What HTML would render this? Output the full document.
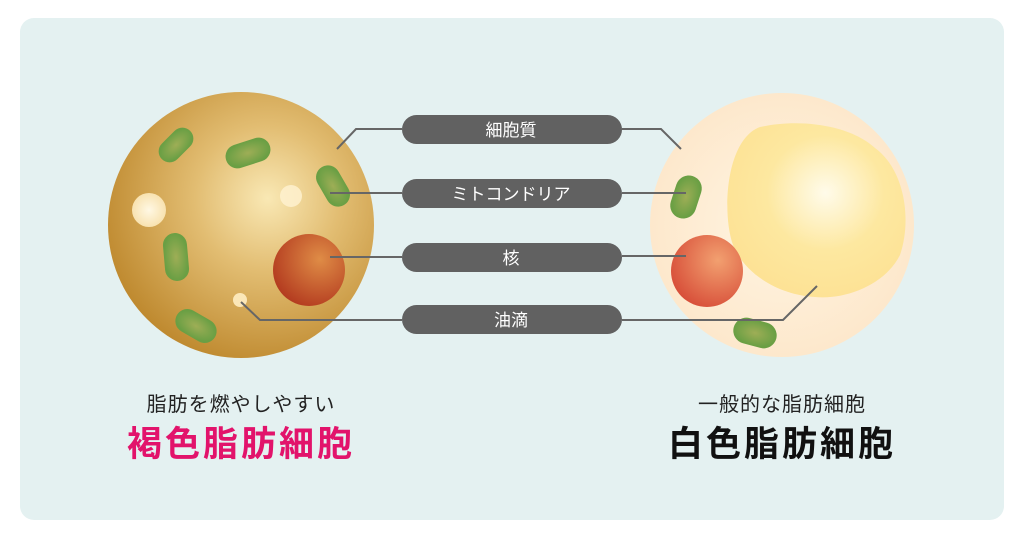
<!DOCTYPE html>
<html><head><meta charset="utf-8"><style>
html,body{margin:0;padding:0;background:#fff;}
svg{display:block;}
text{font-family:"Liberation Sans","Noto Sans CJK JP",sans-serif;}
</style></head><body>
<svg width="1024" height="538" viewBox="0 0 1024 538" xmlns="http://www.w3.org/2000/svg">
<defs>
<radialGradient id="bc" cx="0.6" cy="0.4" r="0.68">
<stop offset="0" stop-color="#f9e8b4"/><stop offset="0.4" stop-color="#e2bd72"/><stop offset="1" stop-color="#bb8428"/></radialGradient>
<radialGradient id="wc" cx="0.5" cy="0.5" r="0.5">
<stop offset="0" stop-color="#fff5e3"/><stop offset="1" stop-color="#fde8cc"/></radialGradient>
<radialGradient id="fat" cx="0.55" cy="0.4" r="0.6">
<stop offset="0" stop-color="#fffbea"/><stop offset="0.55" stop-color="#fde8a0"/><stop offset="1" stop-color="#fde295"/></radialGradient>
<radialGradient id="nuc" cx="0.65" cy="0.35" r="0.7">
<stop offset="0" stop-color="#df8c46"/><stop offset="1" stop-color="#b43c20"/></radialGradient>
<radialGradient id="nuc2" cx="0.65" cy="0.35" r="0.7">
<stop offset="0" stop-color="#f2a070"/><stop offset="1" stop-color="#d8503a"/></radialGradient>
<radialGradient id="mito" cx="0.5" cy="0.5" r="0.5">
<stop offset="0" stop-color="#9eae56"/><stop offset="1" stop-color="#6a9f44"/></radialGradient>
<radialGradient id="pale" cx="0.5" cy="0.5" r="0.5">
<stop offset="0" stop-color="#fff8e4"/><stop offset="1" stop-color="#f8e2b0"/></radialGradient>
</defs>
<rect x="20" y="18" width="984" height="502" rx="14" fill="#e4f1f1"/>

<circle cx="241" cy="225" r="133" fill="url(#bc)"/>
<rect x="-20" y="-11" width="40" height="22" rx="11" fill="url(#mito)" transform="translate(176,145) rotate(-45)"/>
<rect x="-23" y="-12" width="46" height="24" rx="12" fill="url(#mito)" transform="translate(248,153) rotate(-18)"/>
<rect x="-22" y="-12" width="44" height="24" rx="12" fill="url(#mito)" transform="translate(333,186) rotate(60)"/>
<rect x="-24" y="-12" width="48" height="24" rx="12" fill="url(#mito)" transform="translate(176,257) rotate(85)"/>
<rect x="-22" y="-12" width="44" height="24" rx="12" fill="url(#mito)" transform="translate(196,326) rotate(30)"/>
<circle cx="149" cy="210" r="17" fill="url(#pale)"/>
<circle cx="291" cy="196" r="11" fill="#fff3d2" opacity="0.8"/>
<circle cx="309" cy="270" r="36" fill="url(#nuc)"/>
<circle cx="240" cy="300" r="7" fill="#fbe7b8"/>

<circle cx="782" cy="225" r="132" fill="url(#wc)"/>
<path d="M760,127 C800,118 850,125 875,148 C905,170 912,220 900,255 C885,285 845,300 815,297 C780,295 745,275 733,245 C722,215 725,140 760,127 Z" fill="url(#fat)"/>
<rect x="-22" y="-13" width="44" height="26" rx="13" fill="url(#mito)" transform="translate(686,197) rotate(-72)"/>
<circle cx="707" cy="271" r="36" fill="url(#nuc2)"/>
<rect x="-22" y="-13" width="44" height="26" rx="13" fill="url(#mito)" transform="translate(755,333) rotate(15)"/>

<g stroke="#666" stroke-width="2" fill="none">
<polyline points="337,149 356,129 402,129"/>
<line x1="330" y1="193" x2="402" y2="193"/>
<line x1="330" y1="257" x2="402" y2="257"/>
<polyline points="241,302 260,320 402,320"/>
<polyline points="622,129 661,129 681,149"/>
<line x1="622" y1="193" x2="686" y2="193"/>
<line x1="622" y1="256" x2="686" y2="256"/>
<polyline points="622,320 783,320 817,286"/>
</g>
<g fill="#616161">
<rect x="402" y="115" width="220" height="29" rx="14.5"/>
<rect x="402" y="179" width="220" height="29" rx="14.5"/>
<rect x="402" y="243" width="220" height="29" rx="14.5"/>
<rect x="402" y="305" width="220" height="29" rx="14.5"/>
</g>
<g fill="#fff" font-size="17" text-anchor="middle">
<text x="511" y="136">細胞質</text>
<text x="511" y="200">ミトコンドリア</text>
<text x="511" y="264">核</text>
<text x="511" y="326">油滴</text>
</g>

<g text-anchor="middle">
<text x="241" y="411" font-size="20" fill="#222" letter-spacing="1">脂肪を燃やしやすい</text>
<text x="241" y="456" font-size="35" font-weight="bold" fill="#e2136b" letter-spacing="3">褐色脂肪細胞</text>
<text x="782" y="411" font-size="20" fill="#222" letter-spacing="1">一般的な脂肪細胞</text>
<text x="782" y="456" font-size="35" font-weight="bold" fill="#111" letter-spacing="3">白色脂肪細胞</text>
</g>
</svg>
</body></html>
